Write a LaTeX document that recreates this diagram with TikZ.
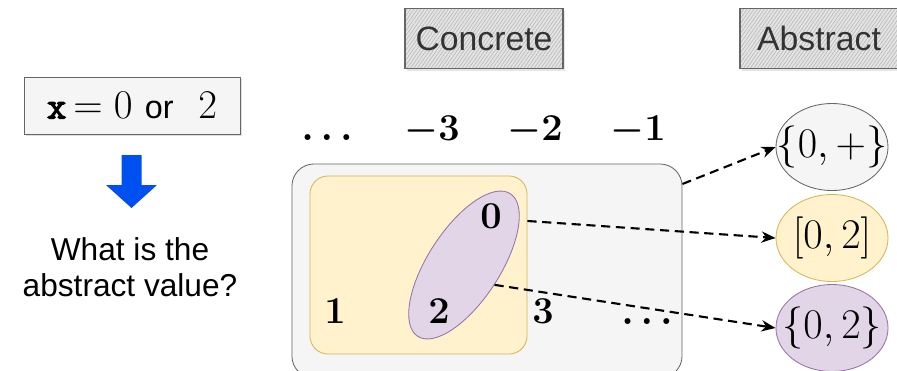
\RequirePackage{fix-cm}
\documentclass[tikz,border=0pt]{standalone}
\usepackage{fontspec}
\newfontfamily\helv{Liberation Sans}
\newfontfamily\ttbold{Latin Modern Mono}[FakeBold=3]
\usetikzlibrary{shapes.geometric,arrows.meta,patterns.meta,shadows}
\definecolor{boxgray}{HTML}{F5F5F5}
\definecolor{linegray}{HTML}{666666}
\definecolor{yfill}{HTML}{FFF2CC}
\definecolor{yline}{HTML}{D6B656}
\definecolor{pfill}{HTML}{E1D5E7}
\definecolor{pline}{HTML}{9673A6}
\definecolor{hatchbg}{HTML}{E4E4E4}
\definecolor{hatchln}{HTML}{B8B8B8}
\definecolor{txtgray}{HTML}{333333}
\definecolor{arrblue}{HTML}{0050EF}
\tikzset{
  heading/.style={draw=linegray, line width=0.9pt,
    drop shadow={opacity=0.2, shadow xshift=1.5pt, shadow yshift=-1.5pt},
    preaction={fill=hatchbg},
    pattern={Lines[angle=55,distance=2pt,line width=0.45pt]}, pattern color=hatchln,
    minimum width=3.95cm, minimum height=1.5cm, text=txtgray,
    font=\helv\fontsize{24}{28}\selectfont},
  num/.style={inner sep=0pt, anchor=base, font=\fontsize{27}{30}\selectfont\boldmath},
  absval/.style={ellipse, line width=0.6pt, minimum width=2.8cm, minimum height=2.175cm,
    inner sep=0pt},
  abstext/.style={font=\fontsize{30}{34}\selectfont, inner sep=0pt},
  conn/.style={-{Stealth[length=10pt,width=8pt]}, line width=1.5pt, dash pattern=on 6.5pt off 4pt}
}
\begin{document}
\begin{tikzpicture}[x=0.025cm, y=-0.025cm]
  \useasboundingbox (0,0) rectangle (897,370);

  % left side: the question
  \node[draw=linegray, fill=boxgray, line width=0.6pt, minimum width=5.4cm, minimum height=1.425cm,
        drop shadow={opacity=0.25, shadow xshift=1.5pt, shadow yshift=-1.5pt},
        font=\fontsize{29}{32}\selectfont] (xval) at (132,105.5)
        {{\ttbold\fontsize{27}{28}\selectfont x}$\,=0$\ {\helv\fontsize{23}{26}\selectfont or}\ \ $2$};
  \coordinate (dn) at (131.5,155);
  \fill[arrblue] (dn) ++(-10,0) -- ++(20,0) -- ++(0,30) -- ++(15.5,0) -- ++(-25.5,23)
        -- ++(-25.5,-23) -- ++(15.5,0) -- cycle;
  \node[align=center, font=\helv\fontsize{22.5}{26}\selectfont] (ask) at (130,267)
        {What is the\\abstract value?};

  % headings
  \node[heading] (conc) at (484,38.5) {Concrete};
  \node[heading] (abst) at (819,38.5) {Abstract};

  % concrete values
  \node[num] (ldots) at (327,140) {$\ldots$};
  \node[num] (m3) at (432,140) {$-3$};
  \node[num] (m2) at (535,140) {$-2$};
  \node[num] (m1) at (638,140) {$-1$};

  \node[draw=linegray, fill=boxgray, line width=0.6pt, rounded corners=0.55cm,
        minimum width=9.75cm, minimum height=5.35cm] (big) at (487,271) {};
  \node[draw=yline, fill=yfill, line width=0.6pt, rounded corners=0.45cm,
        minimum width=5.425cm, minimum height=4.45cm] (ybox) at (418.5,265) {};
  \node[ellipse, draw=pline, fill=pfill, line width=0.6pt, rotate=57, inner sep=0pt,
        minimum width=4.25cm, minimum height=1.8cm] (pell) at (464,265) {};

  \node[num] (c0) at (491,228) {$0$};
  \node[num] (c1) at (335,323) {$1$};
  \node[num] (c2) at (439,323) {$2$};
  \node[num] (c3) at (543,323) {$3$};
  \node[num] (rdots) at (647,324) {$\ldots$};

  % abstract values
  \node[absval, draw=linegray, fill=boxgray] (pplus) at (832,147) {};
  \node[absval, draw=yline, fill=yfill] (pint) at (832,238) {};
  \node[absval, draw=pline, fill=pfill] (pset) at (832,328) {};
  \node[abstext] (tplus) at (pplus) {$\{0,+\}$};
  \node[abstext] (tint) at (pint) {$[0,2]$};
  \node[abstext] (tset) at (pset) {$\{0,2\}$};

  \draw[conn] (big.24) -- (pplus.west);
  \draw[conn] (ybox.22.5) -- (pint.west);
  \draw[conn] (pell.south) -- (pset.west);
\end{tikzpicture}
\end{document}
